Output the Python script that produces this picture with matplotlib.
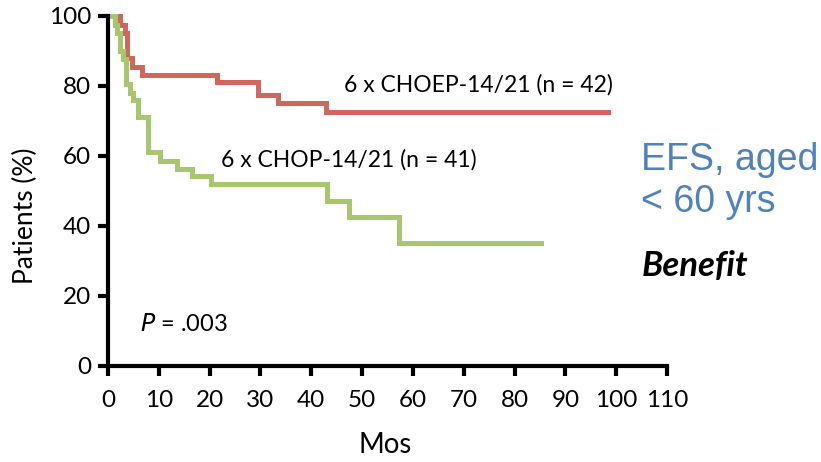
import matplotlib
matplotlib.use("Agg")
import matplotlib.pyplot as plt

plt.rcParams['font.family'] = ['Lato', 'DejaVu Sans']

# Kaplan-Meier step data (months, % patients)
choep_t = [0, 2.3, 3.3, 3.8, 4.7, 6.6, 21.4, 29.5, 33.4, 42.8, 98.4]
choep_y = [100, 97.5, 95, 88, 85.5, 83, 81, 77.5, 75, 72.5, 72.5]

chop_t = [0, 1.4, 1.8, 2.4, 3.0, 3.6, 4.3, 5.0, 5.9, 7.9, 10.2, 13.6, 16.5, 20.2, 43.0, 47.5, 57.3, 85.2]
chop_y = [100, 97.5, 95, 90, 87.8, 80.5, 78, 76, 71.2, 61, 58.6, 56.3, 54.2, 52, 47, 42.5, 35, 35]

red = '#D0665E'
green = '#A8C66C'

fig = plt.figure(figsize=(8.21, 4.62), dpi=100)
ax = fig.add_axes([0.1315, 0.2078, 0.681, 0.7576])

ax.step(choep_t, choep_y, where='post', color=red, lw=3.6, clip_on=False, solid_joinstyle='miter')
ax.step(chop_t, chop_y, where='post', color=green, lw=3.6, clip_on=False, solid_joinstyle='miter')

ax.set_xlim(0, 110)
ax.set_ylim(0, 100)
ax.set_xticks(range(0, 111, 10))
ax.set_yticks(range(0, 101, 20))

for s in ['top', 'right']:
    ax.spines[s].set_visible(False)
for s in ['left', 'bottom']:
    ax.spines[s].set_linewidth(3)
ax.tick_params(width=3, length=7, labelsize=17.5)
ax.tick_params(axis='x', pad=10)
ax.tick_params(axis='y', pad=5)

ax.set_xlabel('Mos', fontsize=20)
ax.set_ylabel('Patients (%)', fontsize=19)
ax.xaxis.set_label_coords(0.495, -0.19)
ax.yaxis.set_label_coords(-0.125, 0.43)

ax.text(46.5, 80.3, '6 x CHOEP-14/21 (n = 42)', fontsize=16.5, va='center')
ax.text(22.3, 59, '6 x CHOP-14/21 (n = 41)', fontsize=16.5, va='center')
ax.text(6.3, 12, '$P$ = .003', fontsize=17, va='center')

fig.text(0.781, 0.608, 'EFS, aged\n< 60 yrs', fontsize=27, color='#4F81BD',
         family='Liberation Sans', va='center', linespacing=1.2)
fig.text(0.782, 0.425, 'Benefit', fontsize=25, weight='bold', style='italic', va='center')

fig.savefig('out.png', dpi=100)
